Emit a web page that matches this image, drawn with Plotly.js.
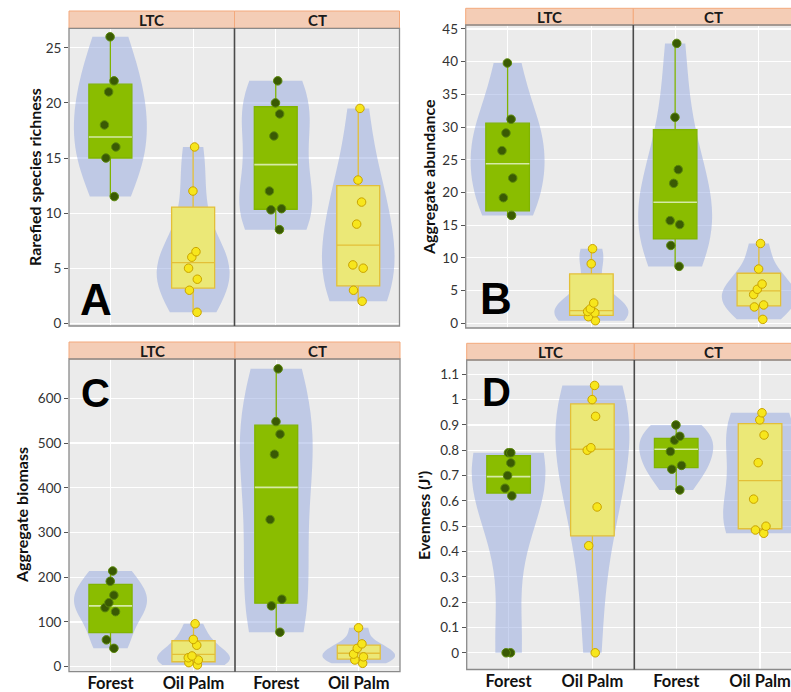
<!DOCTYPE html>
<html>
<head>
<meta charset="utf-8">
<script src="https://cdn.plot.ly/plotly-3.0.1.min.js"></script>
<style>html,body{margin:0;padding:0;overflow:hidden;background:#fff}#chart{width:791px;height:692px}</style>
</head>
<body>
<div id="chart"></div>
<script>
// ---------------- DATA ----------------
const categories = ['Forest', 'Oil Palm'];
const facets = ['LTC', 'CT'];
const panelLetters = ['A', 'B', 'C', 'D'];
const yTitles = ['Rarefied species richness', 'Aggregate abundance', 'Aggregate biomass', "Evenness (J')"];

// Rarefied species richness (A)
const richLtcForest = [26, 22, 21, 18, 16, 15, 11.5];
const richLtcPalm   = [16, 12, 6.5, 6, 5, 4, 3, 1];
const richCtForest  = [22, 20, 19, 17, 12, 10.4, 10.3, 8.5];
const richCtPalm    = [19.5, 13, 11, 9, 5.3, 5, 3, 2];
// box stats: [lower whisker, q1, median, q3, upper whisker]
const richLtcForestBox = [11.5, 15, 16.9, 21.7, 26];
const richLtcPalmBox   = [1, 3.2, 5.5, 10.55, 16];
const richCtForestBox  = [8.5, 10.35, 14.4, 19.65, 22];
const richCtPalmBox    = [2, 3.4, 7.1, 12.5, 19.5];

// Aggregate abundance (B)
const abLtcForest = [39.8, 31.2, 29.1, 26.4, 22.2, 19.2, 16.5];
const abLtcPalm   = [11.4, 9.1, 3.1, 2.2, 1.8, 1.6, 1.0, 0.4];
const abCtForest  = [42.8, 31.5, 23.5, 21.4, 15.7, 15.1, 11.9, 8.7];
const abCtPalm    = [12.2, 8.3, 6.0, 5.2, 4.4, 2.8, 2.5, 0.6];
const abLtcForestBox = [16.5, 17.2, 24.4, 30.6, 39.8];
const abLtcPalmBox   = [0.4, 1.2, 1.95, 7.55, 11.4];
const abCtForestBox  = [8.7, 12.9, 18.5, 29.6, 42.8];
const abCtPalmBox    = [0.6, 2.65, 4.95, 7.65, 12.2];

// Aggregate biomass (C)
const bioLtcForest = [214, 191, 160, 143, 132, 123, 60, 41];
const bioLtcPalm   = [96, 61, 48, 24, 20, 15, 9, 4];
const bioCtForest  = [666, 548, 520, 475, 329, 151, 136, 77];
const bioCtPalm    = [87, 51, 41, 28, 22, 15, 7.5];
const bioLtcForestBox = [41, 76, 136, 184, 214];
const bioLtcPalmBox   = [4, 11, 27.5, 58, 96];
const bioCtForestBox  = [77, 142, 401, 540, 666];
const bioCtPalmBox    = [7.5, 17, 30, 48.4, 87];

// Evenness (D)
const evLtcForest = [0.79, 0.79, 0.75, 0.70, 0.65, 0.62, 0, 0];
const evLtcPalm   = [1.056, 1.0, 0.934, 0.81, 0.80, 0.576, 0.423, 0];
const evCtForest  = [0.90, 0.855, 0.84, 0.795, 0.74, 0.725, 0.643];
const evCtPalm    = [0.948, 0.92, 0.86, 0.751, 0.607, 0.50, 0.485, 0.472];
const evLtcForestBox = [0.62, 0.631, 0.696, 0.779, 0.79];
const evLtcPalmBox   = [0, 0.462, 0.804, 0.983, 1.056];
const evCtForestBox  = [0.643, 0.731, 0.804, 0.847, 0.90];
const evCtPalmBox    = [0.472, 0.49, 0.68, 0.905, 0.948];

const panelData = [
  {LTC: {Forest: [richLtcForest, richLtcForestBox], 'Oil Palm': [richLtcPalm, richLtcPalmBox]},
   CT:  {Forest: [richCtForest, richCtForestBox],   'Oil Palm': [richCtPalm, richCtPalmBox]}},
  {LTC: {Forest: [abLtcForest, abLtcForestBox], 'Oil Palm': [abLtcPalm, abLtcPalmBox]},
   CT:  {Forest: [abCtForest, abCtForestBox],   'Oil Palm': [abCtPalm, abCtPalmBox]}},
  {LTC: {Forest: [bioLtcForest, bioLtcForestBox], 'Oil Palm': [bioLtcPalm, bioLtcPalmBox]},
   CT:  {Forest: [bioCtForest, bioCtForestBox],   'Oil Palm': [bioCtPalm, bioCtPalmBox]}},
  {LTC: {Forest: [evLtcForest, evLtcForestBox], 'Oil Palm': [evLtcPalm, evLtcPalmBox]},
   CT:  {Forest: [evCtForest, evCtForestBox],   'Oil Palm': [evCtPalm, evCtPalmBox]}}
];

// ---------------- LAYOUT GEOMETRY (pixels) ----------------
const W = 791, H = 692;
const geom = [
  {left: 69,    mid: 234.5, right: 399.5, stripTop: 11,    top: 28.3, bottom: 326,   yr: [-0.245, 26.77], dtick: 5,   ctMax: 1.5,   showX: false, letter: {x: 96,  y: 299, size: 44}, title: {x: 34,  y: 177}},
  {left: 465.7, mid: 633.3, right: 793,   stripTop: 8.3,   top: 25,   bottom: 328,   yr: [-0.72, 45.61],  dtick: 5,   ctMax: 1.384, showX: false, letter: {x: 496, y: 298, size: 44}, title: {x: 428, y: 177}},
  {left: 69,    mid: 235,   right: 400,   stripTop: 342,   top: 359,  bottom: 671.7, yr: [-11.2, 688],    dtick: 100, ctMax: 1.5,   showX: true,  letter: {x: 95,  y: 393, size: 40}, title: {x: 21,  y: 515}},
  {left: 466.7, mid: 634.3, right: 793,   stripTop: 343.3, top: 360,  bottom: 669.5, yr: [-0.066, 1.1565],dtick: 0.1, ctMax: 1.369, showX: true,  letter: {x: 496, y: 392, size: 40}, title: {x: 423, y: 516}}
];

const fx = p => p / W;
const fy = p => 1 - p / H;

const style = {
  violin: 'rgba(148,168,224,0.5)',
  Forest:   {fill: '#8abd00', line: '#80b400', median: '#d6eaa6', pt: '#3a5a04', ptLine: '#5a880a'},
  'Oil Palm': {fill: '#ebe877', line: '#e3bf38', median: '#e3bf38', pt: '#f7e61c', ptLine: '#c9a300'}
};

const traces = [];
const layout = {
  width: W, height: H,
  margin: {l: 0, r: 0, t: 0, b: 0},
  paper_bgcolor: '#ffffff',
  plot_bgcolor: '#ebebeb',
  showlegend: false,
  boxmode: 'overlay',
  violinmode: 'overlay',
  shapes: [],
  annotations: []
};

const tickFont = {family: 'Lato, "Open Sans", sans-serif', size: 13.5, color: '#333'};
const boldFont = (size, color) => ({family: 'Lato, "Open Sans", sans-serif', size: size, color: color || '#111', weight: 700});

geom.forEach((g, i) => {
  const xa1 = 2 * i + 1, xa2 = 2 * i + 2, ya = i + 1;
  const xName = k => (k === 1 ? 'xaxis' : 'xaxis' + k);
  const yName = ya === 1 ? 'yaxis' : 'yaxis' + ya;
  const common = {
    type: 'category', categoryarray: categories, categoryorder: 'array',
    showgrid: true, gridcolor: '#ffffff', gridwidth: 1.2, zeroline: false,
    showline: false, ticks: '', showticklabels: g.showX,
    tickfont: boldFont(16.5, '#111'), ticklabelstandoff: 0, fixedrange: true
  };
  layout[xName(xa1)] = Object.assign({}, common, {domain: [fx(g.left), fx(g.mid)], range: [-0.5, 1.5], anchor: 'y' + (ya === 1 ? '' : ya)});
  layout[xName(xa2)] = Object.assign({}, common, {domain: [fx(g.mid), Math.min(1, fx(g.right))], range: [-0.5, g.ctMax], anchor: 'y' + (ya === 1 ? '' : ya)});
  layout[yName] = {
    domain: [fy(g.bottom), fy(g.top)], range: g.yr, anchor: 'x' + (xa1 === 1 ? '' : xa1),
    tick0: 0, dtick: g.dtick, showgrid: true, gridcolor: '#ffffff', gridwidth: 1.2,
    zeroline: false, showline: false, ticks: 'outside', ticklen: 4, tickcolor: '#555', tickwidth: 1,
    tickfont: tickFont, fixedrange: true
  };

  facets.forEach((f, fi) => {
    const xk = fi === 0 ? xa1 : xa2;
    const xref = 'x' + (xk === 1 ? '' : xk);
    const yref = 'y' + (ya === 1 ? '' : ya);
    categories.forEach(cat => {
      const [vals, bx] = panelData[i][f][cat];
      const st = style[cat];
      const xs = vals.map(() => cat);
      traces.push({
        type: 'violin', x: xs, y: vals, xaxis: xref, yaxis: yref,
        fillcolor: style.violin, line: {width: 0, color: 'rgba(0,0,0,0)'},
        points: false, box: {visible: false}, meanline: {visible: false},
        spanmode: 'hard', width: 0.88, hoverinfo: 'skip'
      });
      traces.push({
        type: 'box', x: [cat], xaxis: xref, yaxis: yref,
        lowerfence: [bx[0]], q1: [bx[1]], median: [bx[2]], q3: [bx[3]], upperfence: [bx[4]],
        fillcolor: st.fill, line: {color: st.line, width: 1.3}, whiskerwidth: 0,
        width: 0.52, boxpoints: false, hoverinfo: 'skip'
      });
      if (cat === 'Forest') {
        traces.push({
          type: 'box', x: [cat], xaxis: xref, yaxis: yref,
          lowerfence: [bx[2]], q1: [bx[2]], median: [bx[2]], q3: [bx[2]], upperfence: [bx[2]],
          fillcolor: 'rgba(0,0,0,0)', line: {color: st.median, width: 1.6}, whiskerwidth: 0,
          width: 0.52, boxpoints: false, hoverinfo: 'skip'
        });
      }
      traces.push({
        type: 'box', x: xs, y: vals, xaxis: xref, yaxis: yref,
        fillcolor: 'rgba(0,0,0,0)', line: {width: 0, color: 'rgba(0,0,0,0)'},
        boxpoints: 'all', jitter: 0.35, pointpos: 0, width: 0.52, whiskerwidth: 0,
        marker: {color: st.pt, size: 8.5, line: {color: st.ptLine, width: 1}},
        hoverinfo: 'y'
      });
    });
  });

  // strips
  [[g.left, g.mid, facets[0]], [g.mid, g.right, facets[1]]].forEach(([a, b, label]) => {
    layout.shapes.push({type: 'rect', xref: 'paper', yref: 'paper', x0: fx(a), x1: fx(b), y0: fy(g.top), y1: fy(g.stripTop),
      fillcolor: '#f4cdb6', line: {color: '#f3a97c', width: 1}, layer: 'above'});
    layout.annotations.push({xref: 'paper', yref: 'paper', x: fx((a + Math.min(b, g.mid + (g.mid - g.left))) / 2), y: fy((g.top + g.stripTop) / 2),
      text: label, showarrow: false, xanchor: 'center', yanchor: 'middle', font: boldFont(15, '#1a1a1a')});
  });
  // border & divider
  layout.shapes.push({type: 'rect', xref: 'paper', yref: 'paper', x0: fx(g.left), x1: fx(g.right), y0: fy(g.bottom), y1: fy(g.top),
    line: {color: '#8a8a8a', width: 1.3}, fillcolor: 'rgba(0,0,0,0)', layer: 'above'});
  layout.shapes.push({type: 'line', xref: 'paper', yref: 'paper', x0: fx(g.mid), x1: fx(g.mid), y0: fy(g.bottom), y1: fy(g.top),
    line: {color: '#4a4a4a', width: 1.6}, layer: 'above'});
  // panel letter
  layout.annotations.push({xref: 'paper', yref: 'paper', x: fx(g.letter.x), y: fy(g.letter.y), text: panelLetters[i],
    showarrow: false, xanchor: 'center', yanchor: 'middle',
    font: {family: '"Liberation Sans", Arial, sans-serif', size: g.letter.size, color: '#000', weight: 700}});
  // y title
  layout.annotations.push({xref: 'paper', yref: 'paper', x: fx(g.title.x), y: fy(g.title.y), text: yTitles[i],
    textangle: -90, showarrow: false, xanchor: 'center', yanchor: 'middle', font: boldFont(16, '#111')});
});

Plotly.newPlot('chart', traces, layout, {staticPlot: true, displayModeBar: false});
</script>
</body>
</html>
